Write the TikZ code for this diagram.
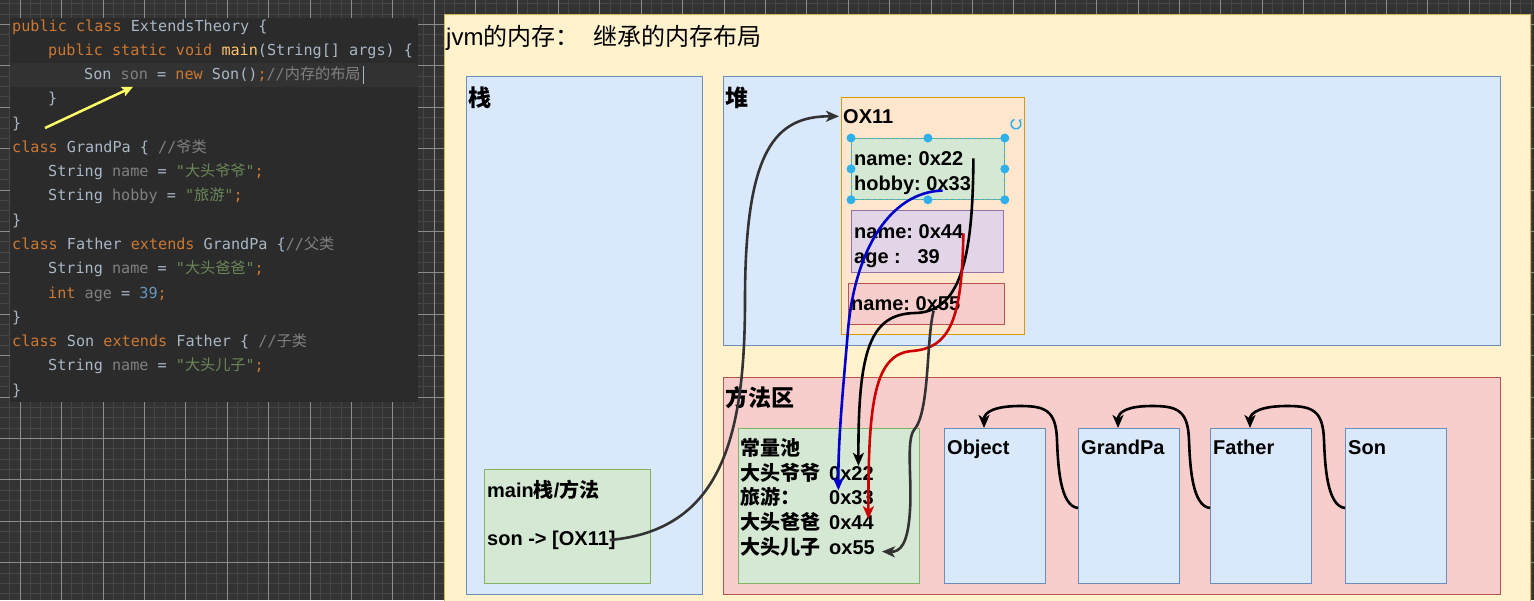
\documentclass[tikz,border=0pt]{standalone}
\usepackage{fontspec}
\setmainfont{Liberation Sans}
\newfontfamily\cjk{Noto Sans CJK SC}
\newfontfamily\codefont{DejaVu Sans Mono}
\usepackage{xcolor}
\usepackage{tikz}
\usetikzlibrary{arrows.meta,positioning,calc}

\definecolor{bgcanvas}{HTML}{333333}
\definecolor{gridminor}{HTML}{464646}
\definecolor{gridmajor}{HTML}{8C8C8C}
\definecolor{codebg}{HTML}{2B2B2B}
\definecolor{curline}{HTML}{323232}
\definecolor{codeplain}{HTML}{A9B7C6}
\definecolor{kwcol}{HTML}{CC7832}
\definecolor{varcol}{HTML}{808080}
\definecolor{cmcol}{HTML}{808080}
\definecolor{strcol}{HTML}{6A8759}
\definecolor{numcol}{HTML}{6897BB}
\definecolor{fncol}{HTML}{FFC66D}
\definecolor{memfill}{HTML}{FFF2CC}
\definecolor{memline}{HTML}{D6B656}
\definecolor{bluefill}{HTML}{DAE8FC}
\definecolor{blueline}{HTML}{6C8EBF}
\definecolor{redfill}{HTML}{F8CECC}
\definecolor{redline}{HTML}{B85450}
\definecolor{greenfill}{HTML}{D5E8D4}
\definecolor{greenline}{HTML}{82B366}
\definecolor{peachfill}{HTML}{FFE6CC}
\definecolor{peachline}{HTML}{D79B00}
\definecolor{purplefill}{HTML}{E1D5E7}
\definecolor{purpleline}{HTML}{9673A6}
\definecolor{selcol}{HTML}{2FB0EA}
\definecolor{arrgrey}{HTML}{333333}
\definecolor{arrblue}{HTML}{0000CC}
\definecolor{arrred}{HTML}{CC0000}
\definecolor{yellowarr}{HTML}{FFFF66}

\newcommand{\ckw}[1]{\textcolor{kwcol}{#1}}
\newcommand{\cvar}[1]{\textcolor{varcol}{#1}}
\newcommand{\ccom}[1]{\textcolor{cmcol}{#1}}
\newcommand{\cstr}[1]{\textcolor{strcol}{#1}}
\newcommand{\cnum}[1]{\textcolor{numcol}{#1}}
\newcommand{\cfun}[1]{\textcolor{fncol}{#1}}

\begin{document}
\frenchspacing
\begin{tikzpicture}[x=1pt, y=1pt,
    box/.style={rectangle, draw, inner sep=0pt, anchor=north west, line width=0.8pt},
    txt/.style={anchor=base west, inner sep=0pt, font=\fontsize{20}{24}\selectfont\bfseries},
    sec/.style={anchor=base west, inner sep=0pt, font=\fontsize{23}{28}\selectfont\bfseries\cjk},
    code/.style={anchor=base west, inner sep=0pt, text=codeplain, font=\codefont\fontsize{15.15}{18}\selectfont},
    arrow/.style={-{Stealth[length=13pt, width=11pt, inset=3.5pt]}, line width=2.6pt}
]
    \useasboundingbox (0,0) rectangle (1534,-600);
    \clip (0,0) rectangle (1534,-600);

    % Canvas grid
    \fill[bgcanvas] (0,0) rectangle (1534,-600);
    \foreach \i in {0,...,150} \draw[gridminor, line width=0.6pt] ({-21.4+10.35*\i},0) -- ++(0,-600);
    \foreach \j in {0,...,60} \draw[gridminor, line width=0.6pt] (0,{17.1-10.35*\j}) -- ++(1534,0);
    \foreach \i in {0,...,38} \draw[gridmajor, line width=0.6pt] ({-21.4+41.4*\i},0) -- ++(0,-600);
    \foreach \j in {0,...,15} \draw[gridmajor, line width=0.6pt] (0,{17.1-41.4*\j}) -- ++(1534,0);

    % Code panel
    \node[fill=codebg, inner sep=0pt, anchor=north west, minimum width=408pt, minimum height=384pt] (codepanel) at (10,-18) {};
    \fill[curline] (10,-63) rectangle (418,-87);

    \node[code] (c1) at (12,-31) {\ckw{public class} ExtendsTheory \{};
    \node[code] (c2) at (48,-55.3) {\ckw{public static void} \cfun{main}(String[] args) \{};
    \node[code] (c3) at (84,-79.5) {Son \cvar{son} = \ckw{new} Son()\ckw{;}\ccom{//{\cjk 内存的布局}}};
    \node[code] (c4) at (48,-103.8) {\}};
    \node[code] (c5) at (12,-128.1) {\}};
    \node[code] (c6) at (12,-152.4) {\ckw{class} GrandPa \{ \ccom{//{\cjk 爷类}}};
    \node[code] (c7) at (48,-176.6) {String \cvar{name} = \cstr{"{\cjk 大头爷爷}"}\ckw{;}};
    \node[code] (c8) at (48,-200.9) {String \cvar{hobby} = \cstr{"{\cjk 旅游}"}\ckw{;}};
    \node[code] (c9) at (12,-225.2) {\}};
    \node[code] (c10) at (12,-249.4) {\ckw{class} Father \ckw{extends} GrandPa \{\ccom{//{\cjk 父类}}};
    \node[code] (c11) at (48,-273.7) {String \cvar{name} = \cstr{"{\cjk 大头爸爸}"}\ckw{;}};
    \node[code] (c12) at (48,-298) {\ckw{int} \cvar{age} = \cnum{39}\ckw{;}};
    \node[code] (c13) at (12,-322.2) {\}};
    \node[code] (c14) at (12,-346.5) {\ckw{class} Son \ckw{extends} Father \{ \ccom{//{\cjk 子类}}};
    \node[code] (c15) at (48,-370.8) {String \cvar{name} = \cstr{"{\cjk 大头儿子}"}\ckw{;}};
    \node[code] (c16) at (12,-395) {\}};

    % Cursor and pointer
    \draw[codeplain, line width=1pt] ([shift={(3,-2)}]c3.south east) -- ([shift={(3,1)}]c3.north east);
    \coordinate (ytail) at (45,-128);
    \draw[yellowarr, line width=2.5pt, -{Stealth[length=11pt, width=10pt, inset=2pt]}] (ytail) -- ([shift={(49,-5)}]c3.south west);

    % Memory panel
    \node[box, fill=memfill, draw=memline, minimum width=1086pt, minimum height=600pt] (mem) at (444,-14) {};
    \node[anchor=base west, inner sep=0pt, font=\fontsize{24}{28}\selectfont] (title) at (446,-45) {jvm{\cjk 的内存：}\hspace{14pt}{\cjk 继承的内存布局}};

    % Regions
    \node[box, fill=bluefill, draw=blueline, minimum width=236pt, minimum height=518pt] (stack) at (466,-76) {};
    \node[sec] (stacklbl) at (468,-106.7) {栈};
    \node[box, fill=bluefill, draw=blueline, minimum width=777pt, minimum height=269pt] (heap) at (723,-76) {};
    \node[sec] (heaplbl) at (725,-106.7) {堆};
    \node[box, fill=redfill, draw=redline, minimum width=777pt, minimum height=217pt] (method) at (723,-377) {};
    \node[sec] (methodlbl) at (725,-406.7) {方法区};

    % Stack frame
    \node[box, fill=greenfill, draw=greenline, minimum width=166pt, minimum height=114pt] (frame) at (484,-469) {};
    \node[txt] (framelbl) at (487,-497.5) {main{\cjk 栈}/{\cjk 方法}};
    \node[txt] (sonref) at (487,-545.2) {son -> [OX11]};

    % Object in heap
    \node[box, fill=peachfill, draw=peachline, minimum width=183pt, minimum height=237pt] (obj) at (841,-97) {};
    \node[txt] (objlbl) at (843,-123.2) {OX11};
    \node[box, fill=greenfill, draw=greenline, minimum width=153pt, minimum height=61pt] (fieldA) at (851,-138) {};
    \node[box, fill=purplefill, draw=purpleline, minimum width=152pt, minimum height=62pt] (fieldB) at (851,-210) {};
    \node[box, fill=redfill, draw=redline, minimum width=156pt, minimum height=41pt] (fieldC) at (848,-283) {};
    \node[txt] (f22) at (854,-165.2) {name: 0x22};
    \node[txt] (f33) at (854,-190.2) {hobby: 0x33};
    \node[txt] (f44) at (854,-238.2) {name: 0x44};
    \node[txt] (fage) at (854,-263.2) {age :\ \ \ 39};
    \node[txt] (f55) at (851,-310.2) {name: 0x55};

    % Selection handles
    \draw[selcol, dashed, line width=0.8pt] (fieldA.north west) rectangle (fieldA.south east);
    \foreach \p in {north west, north, north east, west, east, south west, south, south east}
        \fill[selcol] (fieldA.\p) circle (4.5);
    \draw[selcol, line width=1.5pt, -{Stealth[length=3pt, width=4pt]}] (1016,-124) ++(110:5) arc[start angle=110, end angle=420, radius=5];

    % Constant pool
    \node[box, fill=greenfill, draw=greenline, minimum width=181pt, minimum height=155pt] (pool) at (738,-428) {};
    \node[txt] (poollbl) at (740,-455.6) {\cjk 常量池};
    \node[txt] (k22) at (740,-480) {\cjk 大头爷爷};
    \node[txt] (k33) at (740,-504.6) {\cjk 旅游：};
    \node[txt] (k44) at (740,-529.3) {\cjk 大头爸爸};
    \node[txt] (k55) at (740,-554.3) {\cjk 大头儿子};
    \node[txt] (v22) at (829,-480) {0x22};
    \node[txt] (v33) at (829,-504.6) {0x33};
    \node[txt] (v44) at (829,-529.3) {0x44};
    \node[txt] (v55) at (829,-554.3) {ox55};

    % Classes
    \foreach \n/\x/\t in {object/944/Object, grandpa/1078/GrandPa, father/1210/Father, son/1345/Son} {
        \node[box, fill=bluefill, draw=blueline, minimum width=101pt, minimum height=155pt] (\n) at (\x,-428) {};
        \node[txt] (\n-lbl) at ({\x+3},-454.2) {\t};
    }
    \foreach \a/\b in {grandpa/object, father/grandpa, son/father}
        \draw[arrow, black] ([yshift=-80pt]\a.north west) .. controls +(-18,2) and +(1,-26) .. ++(-21,68) .. controls +(-1,30) and +(25,0) .. ++(-37,34) .. controls +(-25,0) and +(0,16) .. ([xshift=40pt]\b.north west);

    % References
    \draw[arrow, arrgrey] ([xshift=-6pt]sonref.east) .. controls (720,-530) and (745,-440) .. (745,-300) .. controls (745,-150) and (775,-116) .. ([xshift=-4pt]objlbl.west);
    \draw[arrow, arrblue] ([shift={(30,4)}]f33.south) .. controls (890,-192) and (855,-250) .. (848,-330) .. controls (843,-390) and (838,-440) .. ([xshift=-13pt]v33.north);
    \draw[arrow, black] ([xshift=10pt]f22.east) .. controls (973,-260) and (960,-312) .. (915,-313) .. controls (870,-314) and (858,-350) .. ([xshift=7pt]v22.north);
    \draw[arrow, arrred] ([yshift=-2pt]f44.east) .. controls (962,-320) and (950,-348) .. (912,-351) .. controls (875,-354) and (868,-400) .. ([shift={(17,-4)}]v44.north);
    \draw[arrow, arrgrey] ([xshift=28pt]f55.south) .. controls (926,-340) and (930,-412) .. (914,-430) .. controls (906,-440) and (912,-480) .. (910,-510) .. controls (908,-545) and (900,-552) .. ([shift={(7,-4)}]v55.east);
\end{tikzpicture}
\end{document}
